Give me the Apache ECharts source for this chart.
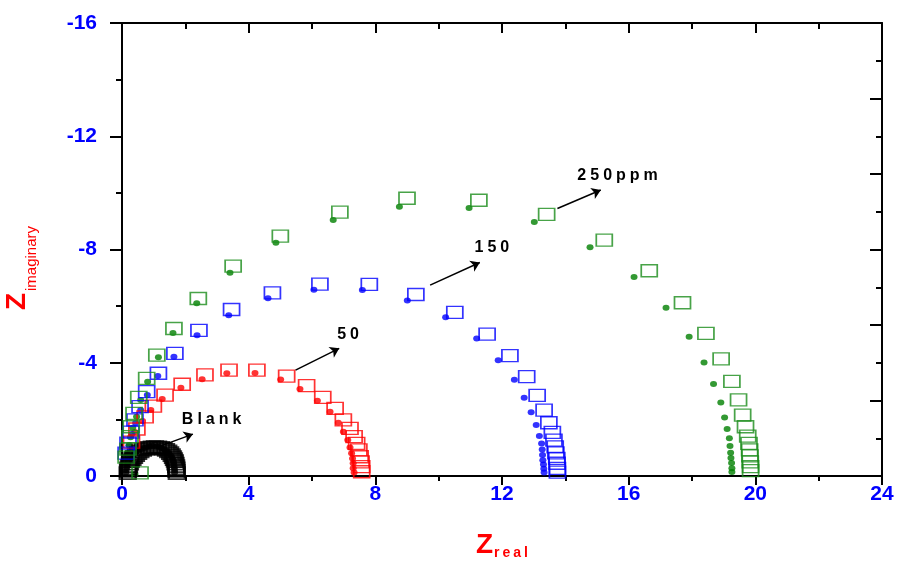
<!DOCTYPE html>
<html>
<head>
<meta charset="utf-8">
<script src="https://cdn.jsdelivr.net/npm/echarts@6/dist/echarts.min.js"></script>
<style>html,body{margin:0;padding:0;background:#fff}#chart{width:898px;height:562px}</style>
</head>
<body>
<div id="chart"></div>
<script>
// Nyquist data: [Z_real, Z_imaginary]
var blankMeasured = [[0.12,-0.12],[0.13,-0.21],[0.15,-0.30],[0.16,-0.39],[0.19,-0.48],[0.22,-0.56],[0.27,-0.64],[0.32,-0.71],[0.38,-0.78],[0.44,-0.85],[0.52,-0.90],[0.60,-0.95],[0.70,-0.99],[0.79,-1.02],[0.88,-1.04],[0.98,-1.06],[1.08,-1.04],[1.17,-1.02],[1.25,-0.99],[1.33,-0.95],[1.39,-0.90],[1.45,-0.85],[1.50,-0.78],[1.55,-0.71],[1.58,-0.64],[1.61,-0.56],[1.63,-0.48],[1.64,-0.39],[1.65,-0.30],[1.66,-0.21],[1.66,-0.12]];
var blankFit = [[0.18,-0.10],[0.19,-0.18],[0.20,-0.27],[0.22,-0.35],[0.25,-0.44],[0.28,-0.53],[0.33,-0.60],[0.38,-0.67],[0.44,-0.74],[0.51,-0.81],[0.58,-0.87],[0.66,-0.92],[0.75,-0.96],[0.85,-0.99],[0.94,-1.01],[1.04,-1.02],[1.14,-1.01],[1.23,-0.99],[1.31,-0.96],[1.39,-0.92],[1.46,-0.87],[1.52,-0.81],[1.57,-0.74],[1.61,-0.67],[1.64,-0.60],[1.67,-0.53],[1.69,-0.44],[1.71,-0.35],[1.72,-0.27],[1.72,-0.18],[1.73,-0.10]];

var ppm50Measured = [[0.25,-1.09],[0.41,-1.55],[0.65,-1.94],[0.91,-2.33],[1.27,-2.72],[1.86,-3.12],[2.53,-3.42],[3.31,-3.63],[4.20,-3.64],[5.01,-3.41],[5.62,-3.07],[6.17,-2.66],[6.57,-2.27],[6.83,-1.88],[6.99,-1.56],[7.13,-1.27],[7.20,-1.01],[7.25,-0.80],[7.28,-0.62],[7.30,-0.45],[7.30,-0.27],[7.33,-0.12]];
var ppm50Fit = [[0.30,-1.20],[0.47,-1.66],[0.73,-2.09],[0.99,-2.47],[1.36,-2.86],[1.90,-3.24],[2.62,-3.57],[3.38,-3.74],[4.26,-3.74],[5.20,-3.53],[5.83,-3.19],[6.34,-2.78],[6.73,-2.39],[6.99,-1.98],[7.20,-1.68],[7.33,-1.39],[7.41,-1.15],[7.48,-0.92],[7.52,-0.68],[7.55,-0.50],[7.57,-0.33],[7.57,-0.15]];

var ppm150Measured = [[0.16,-0.74],[0.22,-1.09],[0.31,-1.48],[0.43,-1.87],[0.59,-2.33],[0.80,-2.86],[1.13,-3.53],[1.64,-4.21],[2.37,-4.97],[3.37,-5.68],[4.61,-6.28],[6.06,-6.58],[7.59,-6.57],[9.01,-6.20],[10.22,-5.61],[11.20,-4.86],[11.88,-4.09],[12.39,-3.40],[12.70,-2.76],[12.92,-2.25],[13.08,-1.80],[13.18,-1.41],[13.25,-1.15],[13.27,-0.94],[13.28,-0.74],[13.29,-0.56],[13.31,-0.41],[13.32,-0.26],[13.33,-0.12]];
var ppm150Fit = [[0.13,-0.81],[0.19,-1.16],[0.28,-1.55],[0.41,-1.98],[0.57,-2.45],[0.78,-2.98],[1.15,-3.63],[1.67,-4.33],[2.43,-5.14],[3.46,-5.88],[4.75,-6.47],[6.25,-6.78],[7.81,-6.77],[9.28,-6.41],[10.51,-5.78],[11.53,-5.01],[12.25,-4.25],[12.78,-3.51],[13.11,-2.85],[13.33,-2.33],[13.48,-1.88],[13.59,-1.54],[13.64,-1.27],[13.68,-1.03],[13.70,-0.82],[13.73,-0.62],[13.74,-0.45],[13.75,-0.27],[13.75,-0.14]];

var ppm250Measured = [[0.41,-0.07],[0.13,-0.56],[0.16,-0.81],[0.23,-1.09],[0.27,-1.37],[0.34,-1.70],[0.46,-2.09],[0.59,-2.68],[0.81,-3.33],[1.15,-4.19],[1.61,-5.05],[2.36,-6.10],[3.41,-7.18],[4.86,-8.24],[6.67,-9.04],[8.76,-9.51],[10.96,-9.47],[13.02,-8.97],[14.78,-8.08],[16.17,-7.03],[17.18,-5.94],[17.91,-4.92],[18.38,-4.01],[18.68,-3.25],[18.91,-2.60],[19.03,-2.07],[19.11,-1.66],[19.18,-1.33],[19.20,-1.06],[19.22,-0.82],[19.23,-0.64],[19.25,-0.46],[19.26,-0.27],[19.26,-0.14]];
var ppm250Fit = [[0.57,-0.11],[0.13,-0.67],[0.19,-0.95],[0.25,-1.39],[0.29,-1.74],[0.38,-2.21],[0.53,-2.78],[0.78,-3.45],[1.10,-4.27],[1.64,-5.21],[2.41,-6.27],[3.51,-7.41],[5.00,-8.47],[6.88,-9.32],[9.00,-9.81],[11.27,-9.74],[13.41,-9.24],[15.23,-8.33],[16.65,-7.25],[17.70,-6.12],[18.44,-5.04],[18.92,-4.14],[19.26,-3.34],[19.47,-2.69],[19.60,-2.15],[19.69,-1.74],[19.76,-1.41],[19.80,-1.15],[19.82,-0.92],[19.83,-0.71],[19.84,-0.50],[19.85,-0.33],[19.85,-0.19]];

var xTicks = [0, 4, 8, 12, 16, 20, 24];
var yTicks = [-16, -12, -8, -4, 0];
var annotationTexts = ['Blank', '50', '150', '250ppm'];

function spaced(str, style) {
  return str.split('').map(function (c) { return '{' + style + '|' + c + '}'; }).join('');
}

var chart = echarts.init(document.getElementById('chart'), null, {renderer: 'canvas'});
var blue = '#0000ff';
var tickStyle = {color: '#000', width: 2};

function dots(name, data, color) {
  return {type: 'scatter', name: name, data: data, symbol: 'circle', symbolSize: [7, 6],
    itemStyle: {color: color}, z: 3, silent: true};
}
function squares(name, data, color, bw) {
  return {type: 'scatter', name: name, data: data, symbol: 'rect', symbolSize: [16, 12],
    itemStyle: {color: 'rgba(0,0,0,0)', borderColor: color, borderWidth: bw || 1.5}, z: 4, silent: true};
}

var annoRich = {a: {fontFamily: 'Arial, Liberation Sans', fontWeight: 'bold', fontSize: 16, color: '#000', padding: [0, 2, 0, 2]}};

var annotations = dots('annot', [], '#000');
annotations.markLine = {
  silent: true, symbol: ['none', 'arrow'], symbolSize: 9, animation: false,
  lineStyle: {color: '#000', width: 1.5, type: 'solid'}, label: {show: false},
  data: [
    [{coord: [1.29, -1.09]}, {coord: [2.24, -1.48]}],
    [{coord: [5.48, -3.74]}, {coord: [6.86, -4.51]}],
    [{coord: [9.73, -6.74]}, {coord: [11.30, -7.54]}],
    [{coord: [13.75, -9.45]}, {coord: [15.12, -10.10]}]
  ]
};
var annoPos = [[2.83, -1.98], [7.14, -4.98], [11.68, -8.08], [15.65, -10.61]];
annotations.markPoint = {
  silent: true, symbol: 'circle', symbolSize: 0, animation: false,
  itemStyle: {color: 'rgba(0,0,0,0)'},
  data: annotationTexts.map(function (t, i) {
    return {coord: annoPos[i], label: {show: true, position: 'inside', formatter: spaced(t, 'a'), rich: annoRich}};
  })
};

var labelFont = {color: blue, fontWeight: 'bold', fontSize: 21, fontFamily: 'Arial, Liberation Sans'};

var option = {
  backgroundColor: '#fff',
  animation: false,
  grid: {left: 122, right: 16, top: 23, bottom: 86},
  xAxis: [
    {type: 'value', min: xTicks[0], max: xTicks[xTicks.length - 1], interval: 4, position: 'bottom',
      axisLine: {show: true, onZero: false, lineStyle: tickStyle},
      axisTick: {show: true, inside: false, length: 9, lineStyle: tickStyle},
      minorTick: {show: true, splitNumber: 2, length: 5, lineStyle: tickStyle},
      splitLine: {show: false},
      axisLabel: Object.assign({margin: 8}, labelFont)},
    {type: 'value', min: xTicks[0], max: xTicks[xTicks.length - 1], interval: 4, position: 'top',
      axisLine: {show: true, onZero: false, lineStyle: tickStyle},
      axisTick: {show: true, inside: true, length: 10, lineStyle: tickStyle},
      minorTick: {show: true, splitNumber: 2, length: 6, lineStyle: tickStyle},
      splitLine: {show: false}, axisLabel: {show: false}}
  ],
  yAxis: [
    {type: 'value', min: yTicks[0], max: yTicks[yTicks.length - 1], interval: 4, inverse: true, position: 'left',
      axisLine: {show: true, onZero: false, lineStyle: tickStyle},
      axisTick: {show: true, inside: false, length: 12, lineStyle: tickStyle},
      minorTick: {show: true, splitNumber: 2, length: 6, lineStyle: tickStyle},
      splitLine: {show: false},
      axisLabel: Object.assign({margin: 25}, labelFont)},
    {type: 'value', min: 0, max: 12, interval: 2, position: 'right',
      axisLine: {show: true, onZero: false, lineStyle: tickStyle},
      axisTick: {show: true, inside: true, length: 12, lineStyle: tickStyle},
      minorTick: {show: true, splitNumber: 2, length: 6, lineStyle: tickStyle},
      splitLine: {show: false}, axisLabel: {show: false}}
  ],
  series: [
    dots('Blank', blankMeasured, '#000'),
    squares('Blank fit', blankFit, '#000', 2),
    dots('50 ppm', ppm50Measured, '#ff0000'),
    squares('50 ppm fit', ppm50Fit, '#ff0000'),
    dots('150 ppm', ppm150Measured, '#0000ff'),
    squares('150 ppm fit', ppm150Fit, '#0000ff'),
    dots('250 ppm', ppm250Measured, '#008000'),
    squares('250 ppm fit', ppm250Fit, '#1a8c1a'),
    annotations
  ],
  graphic: [
    {type: 'text', left: 476, top: 531, silent: true,
      style: {text: 'Z', fill: '#ff0000', font: 'bold 28px Arial, Liberation Sans'}},
    {type: 'text', left: 494, top: 546, silent: true,
      style: {text: spaced('real', 's'), rich: {s: {fill: '#ff0000', fontWeight: 'bold', fontSize: 14, fontFamily: 'Arial, Liberation Sans', padding: [0, 1.5, 0, 1.5]}}}},
    {type: 'group', x: 27, y: 310, rotation: Math.PI / 2, silent: true, children: [
      {type: 'text', x: 0, y: -10, style: {text: 'Z', fill: '#ff0000', font: 'bold 28px Arial, Liberation Sans', verticalAlign: 'middle', align: 'left'}},
      {type: 'text', x: 19, y: 4.7, style: {text: 'imaginary', fill: '#ff0000', font: '15px Arial, Liberation Sans', verticalAlign: 'middle', align: 'left'}}
    ]}
  ]
};
chart.setOption(option);
</script>
</body>
</html>
